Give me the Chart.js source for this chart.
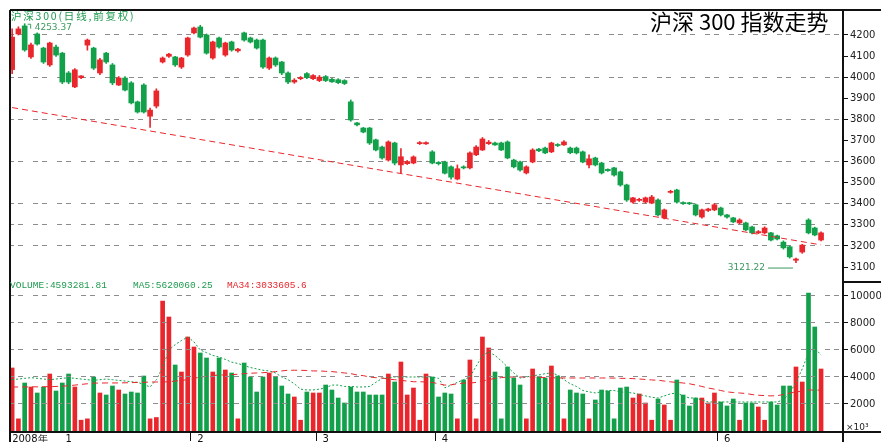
<!DOCTYPE html>
<html>
<head>
<meta charset="utf-8">
<script src="https://cdn.jsdelivr.net/npm/chart.js@4.4.1/dist/chart.umd.min.js"></script>
<style>
  html, body { margin: 0; padding: 0; background: #fff; }
  #wrap { position: relative; width: 881px; height: 442px; overflow: hidden; background: #fff; }
  #price { position: absolute; left: 0; top: 0; }
  #vol { position: absolute; left: 0; top: 278px; }
  .txt { position: absolute; white-space: nowrap; }
  #title { left: 650px; top: 8px; font: 22px 'Noto Sans CJK SC', sans-serif; line-height: 24px; color: #000; }
  #legend { left: 11px; top: 10px; font: 10.5px 'Noto Sans CJK SC', sans-serif; letter-spacing: 1.8px; line-height: 11px; color: #1f9a4f; }
  .vl { position: absolute; top: 280px; font: 9.5px 'Liberation Mono', monospace; line-height: 11px; }
  #unit { left: 846px; top: 422px; font: 9px 'DejaVu Sans', sans-serif; color: #222; }
</style>
</head>
<body>
<div id="wrap">
  <canvas id="price" width="881" height="278"></canvas>
  <canvas id="vol" width="881" height="164"></canvas>
  <div class="txt" id="title">沪深 300 指数走势</div>
  <div class="txt" id="legend">沪深300(日线,前复权)</div>
  <div class="vl" style="left:10px;color:#1f9a4f">VOLUME:4593281.81</div>
  <div class="vl" style="left:133px;color:#1f9a4f">MA5:5620060.25</div>
  <div class="vl" style="left:227px;color:#e8262c">MA34:3033605.6</div>
  <div class="txt" id="unit">×10³</div>
</div>
<script>
// daily candles
const open = [
  4036, 4205, 4243, 4096, 4205, 4138, 4058, 4143, 4114, 4020,
  3954, 3998, 4152, 4138, 4020, 4114, 4058, 3963, 3996, 3973,
  3883, 3963, 3815, 3863, 4072, 4099, 4096, 4048, 4105, 4210,
  4238, 4200, 4091, 4186, 4105, 4167, 4125, 4210, 4186, 4176,
  4176, 4043, 4091, 4072, 4020, 3977, 3993, 4017, 3993, 3984,
  4003, 3990, 3988, 3984, 3883, 3783, 3759, 3759, 3703, 3669,
  3607, 3688, 3584, 3590, 3593, 3685, 3684, 3646, 3596, 3598,
  3575, 3517, 3575, 3570, 3632, 3655, 3685, 3688, 3688, 3693,
  3607, 3598, 3546, 3598, 3659, 3664, 3646, 3681, 3679, 3664,
  3664, 3646, 3584, 3617, 3593, 3563, 3570, 3551, 3489, 3408,
  3416, 3408, 3403, 3418, 3333, 3454, 3465, 3406, 3404, 3395,
  3337, 3368, 3371, 3380, 3347, 3333, 3309, 3309, 3290, 3262,
  3262, 3262, 3248, 3218, 3196, 3132, 3171, 3323, 3285, 3228
];
const high = [
  4229, 4239, 4253.37, 4162, 4210, 4142, 4166, 4152, 4118, 4027,
  4041, 4008, 4181, 4142, 4089, 4118, 4065, 4003, 4003, 3979,
  3887, 3969, 3854, 3945, 4096, 4113, 4099, 4094, 4190, 4238,
  4246, 4205, 4171, 4190, 4166, 4171, 4137, 4214, 4190, 4181,
  4181, 4096, 4096, 4075, 4025, 3993, 4003, 4022, 4012, 4008,
  4008, 3995, 3993, 3988, 3892, 3786, 3762, 3762, 3707, 3673,
  3698, 3692, 3661, 3605, 3627, 3695, 3694, 3652, 3600, 3602,
  3580, 3584, 3580, 3646, 3676, 3714, 3700, 3692, 3692, 3698,
  3611, 3602, 3580, 3661, 3663, 3669, 3692, 3685, 3700, 3669,
  3669, 3650, 3632, 3621, 3597, 3565, 3573, 3555, 3493, 3430,
  3426, 3432, 3440, 3423, 3375, 3464, 3469, 3409, 3407, 3399,
  3375, 3379, 3402, 3384, 3350, 3336, 3329, 3313, 3294, 3273,
  3291, 3265, 3252, 3224, 3200, 3142, 3208, 3329, 3289, 3267
];
const low = [
  4017, 4200, 4123, 4089, 4152, 4065, 4051, 4099, 3969, 3969,
  3950, 3993, 4128, 4036, 4012, 4065, 3964, 3960, 3935, 3873,
  3830, 3830, 3762, 3854, 4067, 4094, 4051, 4041, 4099, 4205,
  4186, 4109, 4085, 4137, 4099, 4123, 4118, 4171, 4162, 4133,
  4041, 4036, 4051, 4012, 3969, 3971, 3988, 3993, 3988, 3979,
  3979, 3975, 3969, 3965, 3791, 3769, 3736, 3681, 3650, 3611,
  3602, 3584, 3546, 3586, 3589, 3681, 3681, 3589, 3584, 3541,
  3517, 3513, 3565, 3565, 3628, 3652, 3681, 3676, 3652, 3613,
  3570, 3555, 3541, 3594, 3647, 3637, 3642, 3671, 3676, 3637,
  3636, 3594, 3570, 3579, 3541, 3553, 3531, 3483, 3411, 3403,
  3411, 3403, 3400, 3342, 3328, 3450, 3403, 3397, 3396, 3342,
  3332, 3363, 3367, 3342, 3332, 3310, 3305, 3272, 3257, 3258,
  3257, 3224, 3228, 3185, 3142, 3121.22, 3165, 3257, 3248, 3224
];
const close = [
  4190, 4229, 4129, 4153, 4157, 4072, 4162, 4105, 3977, 3977,
  4035, 4006, 4176, 4043, 4082, 4072, 3973, 3996, 3939, 3878,
  3835, 3835, 3844, 3935, 4091, 4109, 4058, 4091, 4186, 4233,
  4190, 4114, 4167, 4143, 4162, 4129, 4133, 4176, 4167, 4138,
  4048, 4091, 4058, 4020, 3977, 3986, 3998, 3998, 4008, 4000,
  3984, 3978, 3974, 3970, 3797, 3774, 3740, 3688, 3655, 3617,
  3693, 3593, 3623, 3600, 3622, 3690, 3690, 3593, 3590, 3545,
  3526, 3566, 3570, 3641, 3669, 3707, 3692, 3679, 3655, 3617,
  3575, 3560, 3575, 3655, 3651, 3641, 3688, 3676, 3693, 3642,
  3641, 3598, 3613, 3584, 3546, 3557, 3536, 3489, 3418, 3428,
  3421, 3428, 3432, 3347, 3371, 3459, 3408, 3401, 3400, 3347,
  3371, 3375, 3395, 3347, 3337, 3314, 3323, 3276, 3262, 3268,
  3285, 3228, 3233, 3191, 3148, 3138, 3204, 3262, 3252, 3262
];

// volume (x1000) and its moving averages as drawn
const volume = [
  4667, 900, 3556, 3259, 2815, 3259, 4222, 2963, 3556, 4222,
  3259, 800, 900, 4000, 2815, 2667, 3333, 3037, 2741, 2889,
  2815, 4074, 900, 1000, 9630, 8444, 4889, 4370, 6963, 6222,
  5778, 5407, 4370, 5407, 4519, 4296, 900, 5037, 4000, 2889,
  4000, 4296, 4000, 3333, 2741, 2519, 800, 2889, 2815, 2815,
  3407, 3037, 2444, 2074, 3259, 2889, 2889, 2667, 2667, 2667,
  4222, 3630, 5111, 2667, 3185, 800, 4222, 4000, 2519, 2815,
  2741, 900, 3778, 5259, 900, 6963, 6148, 4370, 900, 4741,
  3926, 3407, 900, 4593, 4000, 3926, 4815, 4074, 900, 3037,
  2815, 2741, 900, 2296, 3037, 2963, 900, 3185, 3259, 2444,
  2741, 2074, 800, 2370, 1926, 800, 3778, 2667, 1852, 2444,
  2444, 2074, 2815, 2148, 1852, 2370, 800, 2074, 2074, 1778,
  800, 2148, 1926, 3333, 3333, 4741, 3630, 10222, 7704, 4593
];
const ma5 = [
  3800, 3850, 3900, 3950, 3900, 3850, 3800, 3850, 3900, 3950,
  3900, 3850, 3800, 3750, 3800, 3850, 3800, 3750, 3700, 3650,
  3600, 3450, 3260, 3800, 4700, 6000, 6400, 6700, 6960, 6600,
  6000, 5800, 5600, 5480, 5300, 5100, 5000, 4850, 4700, 4600,
  4500, 4450, 4300, 4000, 3800, 3500, 3100, 3040, 3040, 3100,
  3200, 3400, 3400, 3300, 3300, 3260, 3260, 3300, 3600, 3900,
  3950, 4000, 4000, 4000, 4000, 4000, 4000, 4000, 3900, 3200,
  3400, 3600, 3800, 4000, 4800, 5600, 5850, 5600, 5200, 4740,
  4300, 3920, 4000, 4100, 4150, 4250, 4300, 4150, 3800, 3500,
  3300, 3000, 2900, 2820, 2900, 3000, 3000, 2900, 2850, 2820,
  2700, 2600, 2500, 2440, 2600, 2750, 2820, 2600, 2450, 2440,
  2300, 2150, 2150, 2150, 2150, 2150, 2150, 2150, 2150, 2150,
  2150, 2150, 2150, 2300, 2820, 3600, 4600, 5780, 6150, 5620
];
const ma34 = [
  3260, 3260, 3260, 3270, 3270, 3280, 3280, 3300, 3320, 3350,
  3400, 3450, 3500, 3550, 3550, 3560, 3560, 3560, 3570, 3580,
  3600, 3600, 3630, 3630, 3630, 3650, 3700, 3750, 3800, 3900,
  4000, 4050, 4100, 4150, 4150, 4180, 4200, 4250, 4280, 4300,
  4320, 4350, 4400, 4450, 4500, 4500, 4500, 4480, 4450, 4450,
  4420, 4400, 4350, 4300, 4250, 4150, 4100, 4000, 3950, 3926,
  3850, 3800, 3750, 3700, 3650, 3650, 3630, 3600, 3500, 3400,
  3420, 3500, 3550, 3550, 3600, 3700, 3800, 3900, 3950, 4000,
  4000, 4000, 4000, 4000, 3980, 3960, 3950, 3930, 3926, 3926,
  3926, 3926, 3926, 3926, 3926, 3926, 3920, 3900, 3900, 3880,
  3850, 3820, 3780, 3760, 3700, 3640, 3600, 3556, 3500, 3400,
  3300, 3185, 3100, 3000, 2900, 2850, 2815, 2780, 2700, 2650,
  2620, 2600, 2620, 2700, 2800, 2900, 2950, 3050, 3020, 3034
];

// red dashed trend line: value at first and last day
const trendStart = 3856;
const trendEnd = 3205;

const priceTicks = [3100, 3200, 3300, 3400, 3500, 3600, 3700, 3800, 3900, 4000, 4100, 4200];
const priceGrid = [3200, 3300, 3400, 3600, 3800, 4000, 4200];
const volTicks = [2000, 4000, 6000, 8000, 10000];
const dateIndex = [0, 8, 29, 49, 68, 113];
const dateText = ['2008年', '1', '2', '3', '4', '6'];
const monthMarks = [29, 49, 68, 113];

const RED = '#e8262c';
const GREEN = '#12a04b';
const GRID = '#8c8c8c';
const DASH = [5, 4, 5, 10];

Chart.defaults.font.family = "'DejaVu Sans', sans-serif";

const days = Array.from({ length: open.length + 3 }, (_, i) => String(i));
const colors = open.map((o, i) => (close[i] >= o ? RED : GREEN));
const bodies = open.map((o, i) => [o, close[i]]);
const wicks = low.map((l, i) => [l, high[i]]);
const trend = open.map(() => null);
trend[0] = trendStart;
trend[trend.length - 1] = trendEnd;

// keep the plot area exactly where the layout padding puts it
const fitRight = s => {
  s.width = 38;
  s.paddingTop = 0;
  s.paddingBottom = 0;
};

const framePrice = {
  id: 'framePrice',
  afterDraw(chart) {
    const { ctx, chartArea: a } = chart;
    ctx.save();
    ctx.strokeStyle = '#111';
    ctx.lineWidth = 2;
    ctx.beginPath();
    ctx.moveTo(a.left + 1, a.top); ctx.lineTo(chart.width, a.top);
    ctx.moveTo(a.left + 1, a.top); ctx.lineTo(a.left + 1, chart.height);
    ctx.moveTo(a.right, a.top); ctx.lineTo(a.right, chart.height);
    ctx.stroke();

    // high / low markers
    const xs = chart.scales.x, ys = chart.scales.y;
    const hi = high.indexOf(Math.max(...high));
    const lo = low.indexOf(Math.min(...low));
    ctx.font = "9px 'DejaVu Sans'";
    ctx.fillStyle = '#3c9a5f';
    ctx.strokeStyle = '#3c9a5f';
    ctx.lineWidth = 1;
    let x = xs.getPixelForValue(hi), y = ys.getPixelForValue(high[hi]);
    ctx.beginPath();
    ctx.moveTo(x + 3, y + 0.5); ctx.lineTo(x + 6, y + 0.5); ctx.lineTo(x + 6, y + 5);
    ctx.stroke();
    ctx.textBaseline = 'middle';
    ctx.textAlign = 'left';
    ctx.fillText(String(high[hi]), x + 10, y + 4);

    x = xs.getPixelForValue(lo); y = ys.getPixelForValue(low[lo]) + 5;
    ctx.beginPath();
    ctx.moveTo(x - 28, y + 0.5); ctx.lineTo(x - 3, y + 0.5);
    ctx.stroke();
    ctx.textAlign = 'right';
    ctx.fillText(String(low[lo]), x - 31, y);
    ctx.restore();
  }
};

const frameVol = {
  id: 'frameVol',
  afterDraw(chart) {
    const { ctx, chartArea: a } = chart;
    ctx.save();
    ctx.strokeStyle = '#111';
    ctx.lineWidth = 2;
    ctx.beginPath();
    ctx.moveTo(a.left + 1, 0); ctx.lineTo(a.left + 1, chart.height);
    ctx.moveTo(a.right, 0); ctx.lineTo(a.right, chart.height);
    ctx.moveTo(a.right, 4); ctx.lineTo(chart.width, 4);
    ctx.moveTo(a.left, a.bottom + 1); ctx.lineTo(chart.width, a.bottom + 1);
    ctx.stroke();
    ctx.restore();
  }
};

new Chart(document.getElementById('price').getContext('2d'), {
  type: 'bar',
  data: {
    labels: days,
    datasets: [
      {
        label: 'body',
        data: bodies,
        backgroundColor: colors,
        barThickness: 5,
        minBarLength: 1,
        grouped: false,
        order: 1,
      },
      {
        label: 'wick',
        data: wicks,
        backgroundColor: colors,
        barThickness: 1,
        grouped: false,
        order: 2,
      },
      {
        type: 'line',
        label: 'trend',
        data: trend,
        borderColor: RED,
        borderWidth: 1,
        borderDash: [6, 4],
        pointRadius: 0,
        spanGaps: true,
        order: 0,
      },
    ],
  },
  options: {
    responsive: false,
    animation: false,
    layout: { padding: { top: 10, left: 9, right: 0, bottom: 0 } },
    plugins: { legend: { display: false }, tooltip: { enabled: false } },
    scales: {
      x: { display: false, offset: true },
      y: {
        position: 'right',
        min: 3048,
        max: 4318.5,
        afterBuildTicks: s => { s.ticks = priceTicks.map(v => ({ value: v })); },
        afterFit: fitRight,
        ticks: { color: '#222', font: { size: 10 }, padding: 2, callback: v => String(v) },
        grid: {
          color: c => (c.tick && priceGrid.includes(c.tick.value) ? GRID : 'rgba(0,0,0,0)'),
          tickColor: '#111',
          tickLength: 5,
        },
        border: { display: false, dash: DASH },
      },
    },
  },
  plugins: [framePrice],
});

new Chart(document.getElementById('vol').getContext('2d'), {
  type: 'bar',
  data: {
    labels: days,
    datasets: [
      {
        label: 'VOLUME',
        data: volume,
        backgroundColor: colors,
        barThickness: 4,
        order: 2,
      },
      {
        type: 'line',
        label: 'MA5',
        data: ma5,
        borderColor: GREEN,
        borderWidth: 1,
        borderDash: [2, 2],
        pointRadius: 0,
        order: 1,
      },
      {
        type: 'line',
        label: 'MA34',
        data: ma34,
        borderColor: RED,
        borderWidth: 1,
        borderDash: [6, 4],
        pointRadius: 0,
        order: 0,
      },
    ],
  },
  options: {
    responsive: false,
    animation: false,
    layout: { padding: { top: 0, left: 9, right: 0, bottom: 0 } },
    plugins: { legend: { display: false }, tooltip: { enabled: false } },
    scales: {
      x: {
        offset: true,
        afterFit: s => { s.height = 11; },
        grid: {
          drawOnChartArea: false,
          tickLength: 10,
          color: c => (monthMarks.includes(c.index) ? '#111' : 'rgba(0,0,0,0)'),
        },
        border: { display: false },
        ticks: {
          autoSkip: false,
          maxRotation: 0,
          align: 'start',
          padding: -8,
          color: '#111',
          font: { size: 10 },
          callback: (v, i) => {
            const k = dateIndex.indexOf(i);
            return k >= 0 ? (i === 0 ? dateText[k] : ' ' + dateText[k]) : '';
          },
        },
      },
      y: {
        position: 'right',
        min: 0,
        max: 11333,
        afterBuildTicks: s => { s.ticks = volTicks.map(v => ({ value: v })); },
        afterFit: fitRight,
        ticks: { color: '#222', font: { size: 10 }, padding: 2, callback: v => String(v) },
        grid: { color: GRID, tickColor: '#111', tickLength: 5, z: 1 },
        border: { display: false, dash: DASH },
      },
    },
  },
  plugins: [frameVol],
});
</script>
</body>
</html>
